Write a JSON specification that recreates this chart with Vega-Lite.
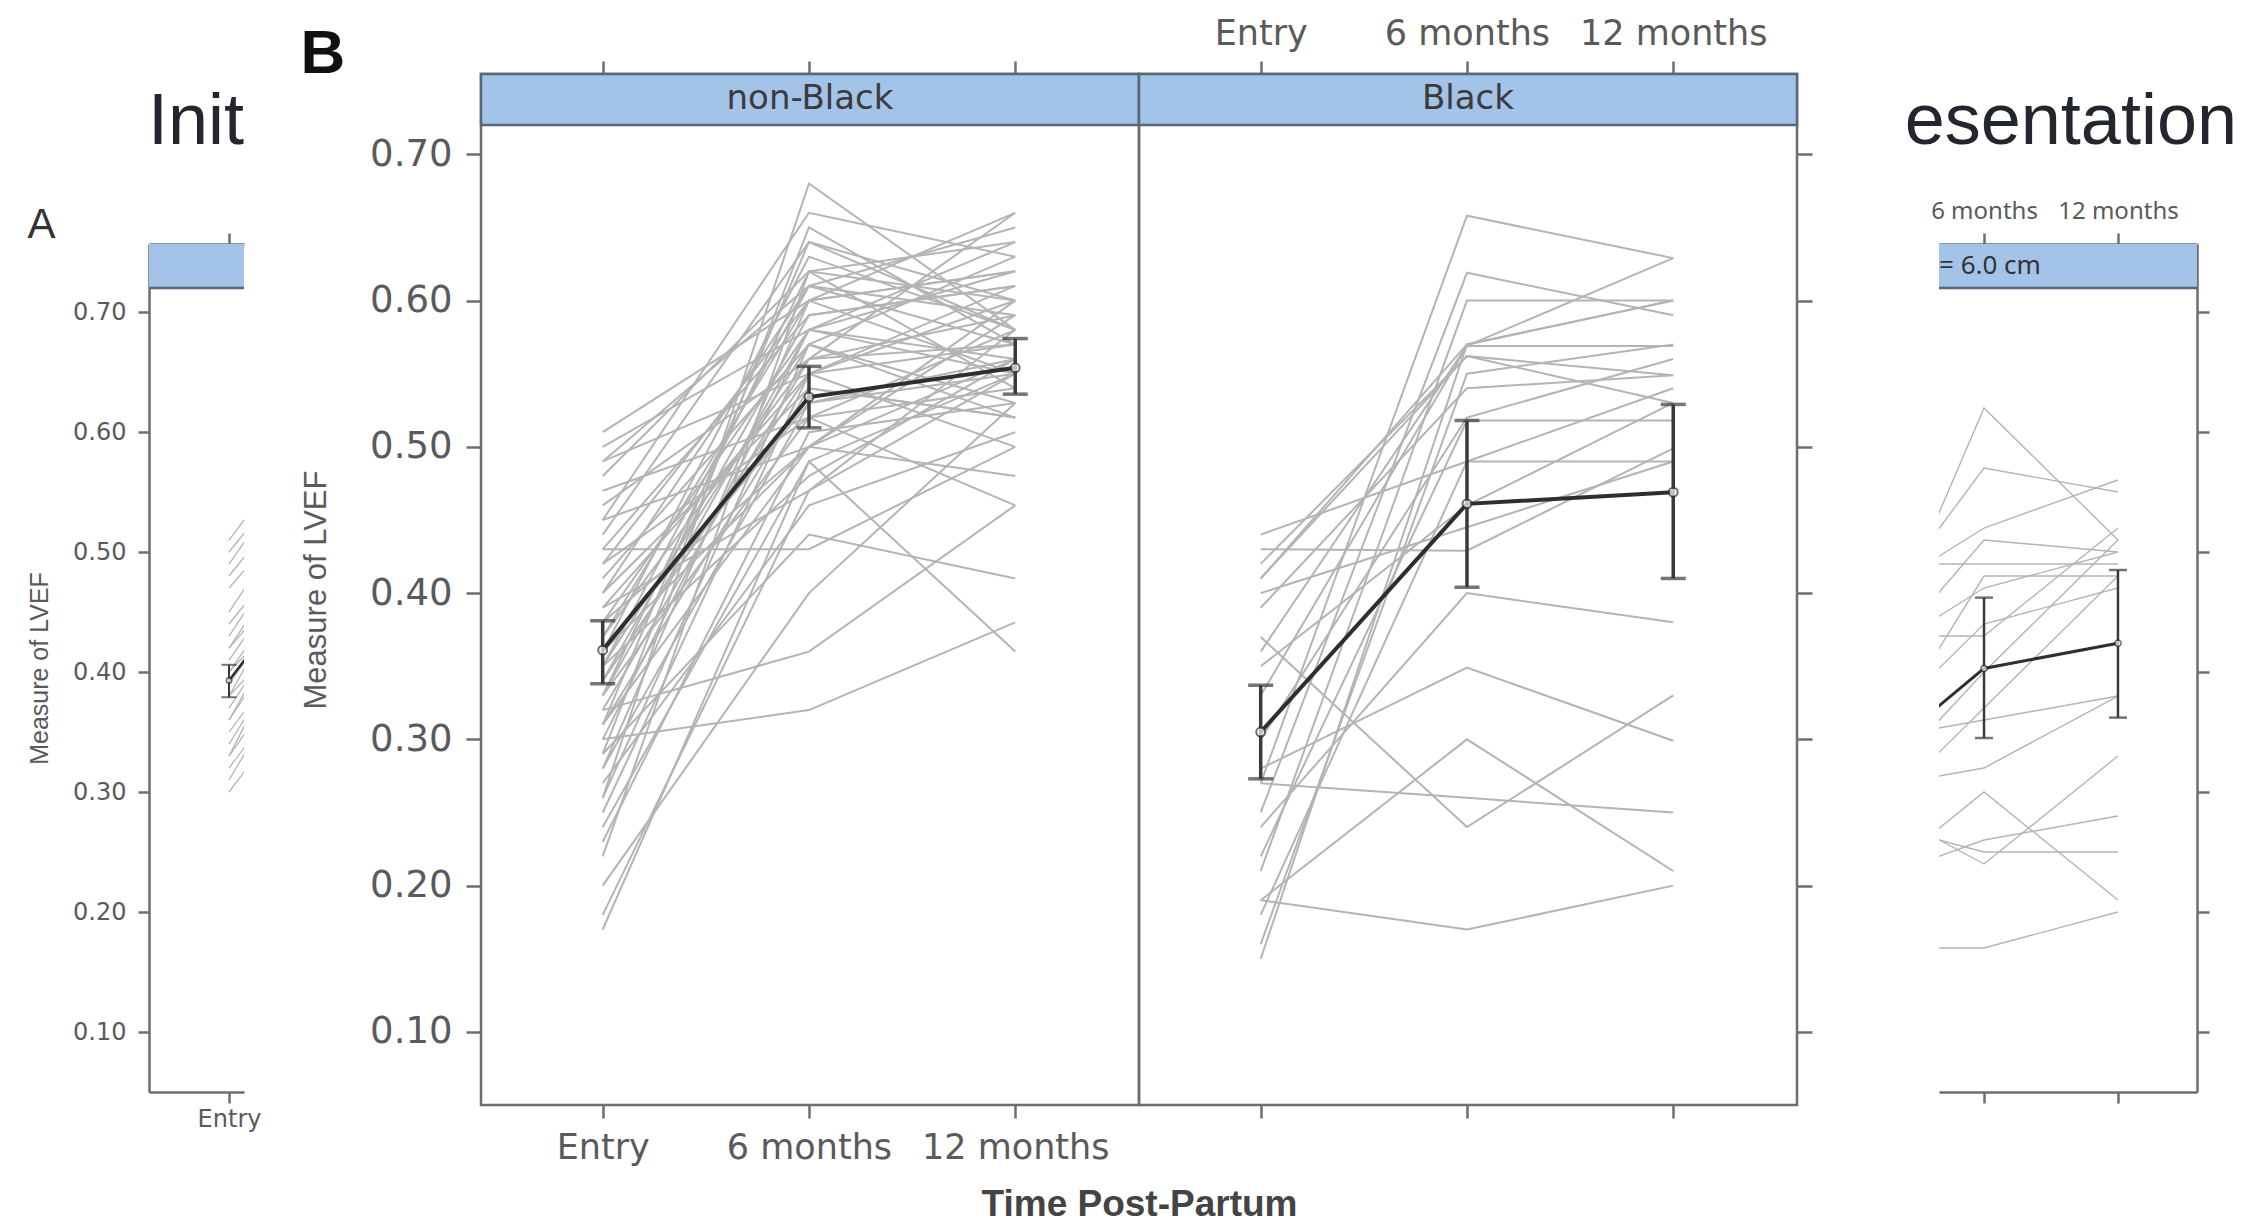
{
"$schema":"https://vega.github.io/schema/vega-lite/v6.json",
"background":"white",
"padding":{"left":27,"top":14,"right":12,"bottom":0},
"config":{
 "view":{"stroke":"#6e6e6e","strokeWidth":2.5},
 "axis":{"domainColor":"#6e6e6e","domainWidth":2.5,"tickColor":"#6e6e6e","tickWidth":2.5,"labelColor":"#5a5a5a","titleColor":"#5a5a5a","grid":false,"labelFont":"DejaVu Sans","titleFont":"Liberation Sans","labelLimit":600}
},
"datasets":{
 "nonBlack":[
{"id":1,"t":0,"v":0.51},{"id":1,"t":1,"v":0.60},{"id":1,"t":2,"v":0.62},
{"id":2,"t":0,"v":0.50},{"id":2,"t":1,"v":0.58},{"id":2,"t":2,"v":0.64},
{"id":3,"t":0,"v":0.49},{"id":3,"t":1,"v":0.55},{"id":3,"t":2,"v":0.57},
{"id":4,"t":0,"v":0.48},{"id":4,"t":1,"v":0.62},{"id":4,"t":2,"v":0.60},
{"id":5,"t":0,"v":0.47},{"id":5,"t":1,"v":0.52},{"id":5,"t":2,"v":0.54},
{"id":6,"t":0,"v":0.46},{"id":6,"t":1,"v":0.56},{"id":6,"t":2,"v":0.66},
{"id":7,"t":0,"v":0.45},{"id":7,"t":1,"v":0.50},{"id":7,"t":2,"v":0.56},
{"id":8,"t":0,"v":0.44},{"id":8,"t":1,"v":0.64},{"id":8,"t":2,"v":0.58},
{"id":9,"t":0,"v":0.43},{"id":9,"t":1,"v":0.43},{"id":9,"t":2,"v":0.50},
{"id":10,"t":0,"v":0.43},{"id":10,"t":1,"v":0.59},{"id":10,"t":2,"v":0.61},
{"id":11,"t":0,"v":0.42},{"id":11,"t":1,"v":0.60},{"id":11,"t":2,"v":0.55},
{"id":12,"t":0,"v":0.41},{"id":12,"t":1,"v":0.57},{"id":12,"t":2,"v":0.63},
{"id":13,"t":0,"v":0.40},{"id":13,"t":1,"v":0.54},{"id":13,"t":2,"v":0.52},
{"id":14,"t":0,"v":0.40},{"id":14,"t":1,"v":0.61},{"id":14,"t":2,"v":0.59},
{"id":15,"t":0,"v":0.39},{"id":15,"t":1,"v":0.55},{"id":15,"t":2,"v":0.60},
{"id":16,"t":0,"v":0.38},{"id":16,"t":1,"v":0.58},{"id":16,"t":2,"v":0.56},
{"id":17,"t":0,"v":0.38},{"id":17,"t":1,"v":0.50},{"id":17,"t":2,"v":0.48},
{"id":18,"t":0,"v":0.37},{"id":18,"t":1,"v":0.56},{"id":18,"t":2,"v":0.57},
{"id":19,"t":0,"v":0.37},{"id":19,"t":1,"v":0.60},{"id":19,"t":2,"v":0.62},
{"id":20,"t":0,"v":0.36},{"id":20,"t":1,"v":0.53},{"id":20,"t":2,"v":0.55},
{"id":21,"t":0,"v":0.36},{"id":21,"t":1,"v":0.63},{"id":21,"t":2,"v":0.58},
{"id":22,"t":0,"v":0.35},{"id":22,"t":1,"v":0.57},{"id":22,"t":2,"v":0.53},
{"id":23,"t":0,"v":0.35},{"id":23,"t":1,"v":0.48},{"id":23,"t":2,"v":0.56},
{"id":24,"t":0,"v":0.34},{"id":24,"t":1,"v":0.59},{"id":24,"t":2,"v":0.61},
{"id":25,"t":0,"v":0.34},{"id":25,"t":1,"v":0.55},{"id":25,"t":2,"v":0.50},
{"id":26,"t":0,"v":0.33},{"id":26,"t":1,"v":0.52},{"id":26,"t":2,"v":0.58},
{"id":27,"t":0,"v":0.33},{"id":27,"t":1,"v":0.62},{"id":27,"t":2,"v":0.54},
{"id":28,"t":0,"v":0.32},{"id":28,"t":1,"v":0.36},{"id":28,"t":2,"v":0.46},
{"id":29,"t":0,"v":0.32},{"id":29,"t":1,"v":0.56},{"id":29,"t":2,"v":0.59},
{"id":30,"t":0,"v":0.31},{"id":30,"t":1,"v":0.54},{"id":30,"t":2,"v":0.52},
{"id":31,"t":0,"v":0.31},{"id":31,"t":1,"v":0.50},{"id":31,"t":2,"v":0.60},
{"id":32,"t":0,"v":0.30},{"id":32,"t":1,"v":0.32},{"id":32,"t":2,"v":0.38},
{"id":33,"t":0,"v":0.30},{"id":33,"t":1,"v":0.58},{"id":33,"t":2,"v":0.55},
{"id":34,"t":0,"v":0.29},{"id":34,"t":1,"v":0.65},{"id":34,"t":2,"v":0.57},
{"id":35,"t":0,"v":0.29},{"id":35,"t":1,"v":0.44},{"id":35,"t":2,"v":0.41},
{"id":36,"t":0,"v":0.28},{"id":36,"t":1,"v":0.53},{"id":36,"t":2,"v":0.56},
{"id":37,"t":0,"v":0.28},{"id":37,"t":1,"v":0.60},{"id":37,"t":2,"v":0.66},
{"id":38,"t":0,"v":0.27},{"id":38,"t":1,"v":0.46},{"id":38,"t":2,"v":0.51},
{"id":39,"t":0,"v":0.26},{"id":39,"t":1,"v":0.57},{"id":39,"t":2,"v":0.52},
{"id":40,"t":0,"v":0.26},{"id":40,"t":1,"v":0.68},{"id":40,"t":2,"v":0.58},
{"id":41,"t":0,"v":0.25},{"id":41,"t":1,"v":0.55},{"id":41,"t":2,"v":0.61},
{"id":42,"t":0,"v":0.24},{"id":42,"t":1,"v":0.49},{"id":42,"t":2,"v":0.36},
{"id":43,"t":0,"v":0.23},{"id":43,"t":1,"v":0.51},{"id":43,"t":2,"v":0.53},
{"id":44,"t":0,"v":0.22},{"id":44,"t":1,"v":0.62},{"id":44,"t":2,"v":0.64},
{"id":45,"t":0,"v":0.20},{"id":45,"t":1,"v":0.40},{"id":45,"t":2,"v":0.53},
{"id":46,"t":0,"v":0.18},{"id":46,"t":1,"v":0.47},{"id":46,"t":2,"v":0.58},
{"id":47,"t":0,"v":0.17},{"id":47,"t":1,"v":0.49},{"id":47,"t":2,"v":0.55},
{"id":48,"t":0,"v":0.45},{"id":48,"t":1,"v":0.66},{"id":48,"t":2,"v":0.63},
{"id":49,"t":0,"v":0.49},{"id":49,"t":1,"v":0.61},{"id":49,"t":2,"v":0.65},
{"id":50,"t":0,"v":0.42},{"id":50,"t":1,"v":0.52},{"id":50,"t":2,"v":0.46},
{"id":51,"t":0,"v":0.39},{"id":51,"t":1,"v":0.47},{"id":51,"t":2,"v":0.55},
{"id":52,"t":0,"v":0.35},{"id":52,"t":1,"v":0.61},{"id":52,"t":2,"v":0.57},
{"id":53,"t":0,"v":0.33},{"id":53,"t":1,"v":0.58},{"id":53,"t":2,"v":0.62},
{"id":54,"t":0,"v":0.31},{"id":54,"t":1,"v":0.64},{"id":54,"t":2,"v":0.60},
{"id":55,"t":0,"v":0.36},{"id":55,"t":1,"v":0.50},{"id":55,"t":2,"v":0.59}
 ],
 "black":[
{"id":1,"t":0,"v":0.27},{"id":1,"t":1,"v":0.658},{"id":1,"t":2,"v":0.629},
{"id":2,"t":0,"v":0.25},{"id":2,"t":1,"v":0.619},{"id":2,"t":2,"v":0.590},
{"id":3,"t":0,"v":0.21},{"id":3,"t":1,"v":0.600},{"id":3,"t":2,"v":0.600},
{"id":4,"t":0,"v":0.36},{"id":4,"t":1,"v":0.569},{"id":4,"t":2,"v":0.629},
{"id":5,"t":0,"v":0.33},{"id":5,"t":1,"v":0.569},{"id":5,"t":2,"v":0.569},
{"id":6,"t":0,"v":0.41},{"id":6,"t":1,"v":0.562},{"id":6,"t":2,"v":0.549},
{"id":7,"t":0,"v":0.42},{"id":7,"t":1,"v":0.562},{"id":7,"t":2,"v":0.530},
{"id":8,"t":0,"v":0.39},{"id":8,"t":1,"v":0.540},{"id":8,"t":2,"v":0.549},
{"id":9,"t":0,"v":0.22},{"id":9,"t":1,"v":0.518},{"id":9,"t":2,"v":0.518},
{"id":10,"t":0,"v":0.18},{"id":10,"t":1,"v":0.490},{"id":10,"t":2,"v":0.490},
{"id":11,"t":0,"v":0.44},{"id":11,"t":1,"v":0.490},{"id":11,"t":2,"v":0.540},
{"id":12,"t":0,"v":0.43},{"id":12,"t":1,"v":0.429},{"id":12,"t":2,"v":0.499},
{"id":13,"t":0,"v":0.40},{"id":13,"t":1,"v":0.445},{"id":13,"t":2,"v":0.490},
{"id":14,"t":0,"v":0.24},{"id":14,"t":1,"v":0.400},{"id":14,"t":2,"v":0.380},
{"id":15,"t":0,"v":0.28},{"id":15,"t":1,"v":0.349},{"id":15,"t":2,"v":0.299},
{"id":16,"t":0,"v":0.19},{"id":16,"t":1,"v":0.300},{"id":16,"t":2,"v":0.210},
{"id":17,"t":0,"v":0.37},{"id":17,"t":1,"v":0.240},{"id":17,"t":2,"v":0.330},
{"id":18,"t":0,"v":0.27},{"id":18,"t":1,"v":0.260},{"id":18,"t":2,"v":0.250},
{"id":19,"t":0,"v":0.19},{"id":19,"t":1,"v":0.170},{"id":19,"t":2,"v":0.200},
{"id":20,"t":0,"v":0.15},{"id":20,"t":1,"v":0.570},{"id":20,"t":2,"v":0.600},
{"id":21,"t":0,"v":0.16},{"id":21,"t":1,"v":0.550},{"id":21,"t":2,"v":0.570},
{"id":22,"t":0,"v":0.35},{"id":22,"t":1,"v":0.460},{"id":22,"t":2,"v":0.530},
{"id":23,"t":0,"v":0.30},{"id":23,"t":1,"v":0.520},{"id":23,"t":2,"v":0.560},
{"id":24,"t":0,"v":0.41},{"id":24,"t":1,"v":0.570},{"id":24,"t":2,"v":0.600}
 ],
 "panelA":[
{"id":1,"t":0,"v":0.51},{"id":1,"t":1,"v":0.66},
{"id":2,"t":0,"v":0.50},{"id":2,"t":1,"v":0.64},
{"id":3,"t":0,"v":0.49},{"id":3,"t":1,"v":0.65},
{"id":4,"t":0,"v":0.48},{"id":4,"t":1,"v":0.62},
{"id":5,"t":0,"v":0.47},{"id":5,"t":1,"v":0.60},
{"id":6,"t":0,"v":0.45},{"id":6,"t":1,"v":0.62},
{"id":7,"t":0,"v":0.44},{"id":7,"t":1,"v":0.58},
{"id":8,"t":0,"v":0.43},{"id":8,"t":1,"v":0.60},
{"id":9,"t":0,"v":0.42},{"id":9,"t":1,"v":0.55},
{"id":10,"t":0,"v":0.42},{"id":10,"t":1,"v":0.59},
{"id":11,"t":0,"v":0.41},{"id":11,"t":1,"v":0.57},
{"id":12,"t":0,"v":0.40},{"id":12,"t":1,"v":0.56},
{"id":13,"t":0,"v":0.40},{"id":13,"t":1,"v":0.52},
{"id":14,"t":0,"v":0.39},{"id":14,"t":1,"v":0.55},
{"id":15,"t":0,"v":0.38},{"id":15,"t":1,"v":0.58},
{"id":16,"t":0,"v":0.38},{"id":16,"t":1,"v":0.50},
{"id":17,"t":0,"v":0.37},{"id":17,"t":1,"v":0.54},
{"id":18,"t":0,"v":0.36},{"id":18,"t":1,"v":0.53},
{"id":19,"t":0,"v":0.36},{"id":19,"t":1,"v":0.56},
{"id":20,"t":0,"v":0.35},{"id":20,"t":1,"v":0.50},
{"id":21,"t":0,"v":0.34},{"id":21,"t":1,"v":0.52},
{"id":22,"t":0,"v":0.33},{"id":22,"t":1,"v":0.49},
{"id":23,"t":0,"v":0.33},{"id":23,"t":1,"v":0.55},
{"id":24,"t":0,"v":0.32},{"id":24,"t":1,"v":0.47},
{"id":25,"t":0,"v":0.31},{"id":25,"t":1,"v":0.50},
{"id":26,"t":0,"v":0.30},{"id":26,"t":1,"v":0.45}
 ],
 "panelR":[
{"id":1,"t":0,"v":0.36},{"id":1,"t":1,"v":0.62},{"id":1,"t":2,"v":0.51},
{"id":2,"t":0,"v":0.42},{"id":2,"t":1,"v":0.57},{"id":2,"t":2,"v":0.55},
{"id":3,"t":0,"v":0.45},{"id":3,"t":1,"v":0.52},{"id":3,"t":2,"v":0.56},
{"id":4,"t":0,"v":0.49},{"id":4,"t":1,"v":0.49},{"id":4,"t":2,"v":0.49},
{"id":5,"t":0,"v":0.38},{"id":5,"t":1,"v":0.51},{"id":5,"t":2,"v":0.50},
{"id":6,"t":0,"v":0.30},{"id":6,"t":1,"v":0.48},{"id":6,"t":2,"v":0.48},
{"id":7,"t":0,"v":0.40},{"id":7,"t":1,"v":0.47},{"id":7,"t":2,"v":0.50},
{"id":8,"t":0,"v":0.43},{"id":8,"t":1,"v":0.43},{"id":8,"t":2,"v":0.52},
{"id":9,"t":0,"v":0.33},{"id":9,"t":1,"v":0.44},{"id":9,"t":2,"v":0.47},
{"id":10,"t":0,"v":0.34},{"id":10,"t":1,"v":0.36},{"id":10,"t":2,"v":0.38},
{"id":11,"t":0,"v":0.30},{"id":11,"t":1,"v":0.32},{"id":11,"t":2,"v":0.38},
{"id":12,"t":0,"v":0.21},{"id":12,"t":1,"v":0.30},{"id":12,"t":2,"v":0.21},
{"id":13,"t":0,"v":0.30},{"id":13,"t":1,"v":0.24},{"id":13,"t":2,"v":0.33},
{"id":14,"t":0,"v":0.22},{"id":14,"t":1,"v":0.26},{"id":14,"t":2,"v":0.28},
{"id":15,"t":0,"v":0.28},{"id":15,"t":1,"v":0.25},{"id":15,"t":2,"v":0.25},
{"id":16,"t":0,"v":0.17},{"id":16,"t":1,"v":0.17},{"id":16,"t":2,"v":0.20},
{"id":17,"t":0,"v":0.28},{"id":17,"t":1,"v":0.40},{"id":17,"t":2,"v":0.51},
{"id":18,"t":0,"v":0.26},{"id":18,"t":1,"v":0.37},{"id":18,"t":2,"v":0.48}
 ],
 "means":[
{"panel":"A","t":0,"mean":0.393,"lo":0.379,"hi":0.406},
{"panel":"A","t":1,"mean":0.54,"lo":0.52,"hi":0.56},
{"panel":"A","t":2,"mean":0.55,"lo":0.53,"hi":0.57},
{"panel":"nonBlack","t":0,"mean":0.361,"lo":0.338,"hi":0.381},
{"panel":"nonBlack","t":1,"mean":0.534,"lo":0.513,"hi":0.555},
{"panel":"nonBlack","t":2,"mean":0.554,"lo":0.536,"hi":0.574},
{"panel":"Black","t":0,"mean":0.305,"lo":0.273,"hi":0.337},
{"panel":"Black","t":1,"mean":0.461,"lo":0.404,"hi":0.518},
{"panel":"Black","t":2,"mean":0.469,"lo":0.410,"hi":0.529},
{"panel":"R","t":0,"mean":0.31,"lo":0.27,"hi":0.35},
{"panel":"R","t":1,"mean":0.403,"lo":0.345,"hi":0.462},
{"panel":"R","t":2,"mean":0.424,"lo":0.362,"hi":0.485}
 ]
},
"spacing":89,
"hconcat":[
 {"spacing":38,"hconcat":[
  {"bounds":"flush","spacing":100,"vconcat":[
   {"width":95,"height":70,"view":{"stroke":null},
    "data":{"values":[{"txt":"Init"}]},
    "mark":{"type":"text","align":"right","baseline":"alphabetic","font":"Liberation Sans","fontSize":72,"color":"#24262e"},
    "encoding":{"text":{"field":"txt"},"x":{"value":"width"},"y":{"value":"height"}}},
   {"width":95,"height":848,"view":{"stroke":null},
    "title":{"text":"A","anchor":"start","frame":"bounds","font":"Liberation Sans","fontSize":42,"fontWeight":"normal","color":"#333333","offset":-15},
    "resolve":{"axis":{"x":"independent","y":"independent"}},
    "layer":[
     {"data":{"values":[{"s":"A"}]},"mark":{"type":"rect","fill":"#a3c3e8"},
      "encoding":{"x":{"datum":-0.593,"type":"quantitative","scale":{"domain":[-0.593,0.111],"nice":false,"zero":false},"axis":null},"x2":{"datum":0.111},
       "y":{"datum":0.72,"type":"quantitative","scale":{"domain":[0.05,0.7567],"nice":false,"zero":false},"axis":null},"y2":{"datum":0.7567}}},
     {"data":{"values":[{"s":"A"}]},"mark":{"type":"rule","color":"#56687a","strokeWidth":2.5},
      "encoding":{"x":{"datum":-0.593,"type":"quantitative","scale":{"domain":[-0.593,0.111],"nice":false,"zero":false},"axis":null},"x2":{"datum":0.111},
       "y":{"datum":0.72,"type":"quantitative","scale":{"domain":[0.05,0.7567],"nice":false,"zero":false},"axis":null}}},
     {"data":{"name":"panelA"},"mark":{"type":"line","color":"#b4b4b4","strokeWidth":1.3,"clip":true},
      "encoding":{"x":{"field":"t","type":"quantitative","scale":{"domain":[-0.593,0.111],"nice":false,"zero":false},
        "axis":{"orient":"bottom","values":[0],"labelExpr":"['Entry','6 months','12 months'][datum.value]","labelFontSize":24,"tickSize":11,"labelPadding":4,"title":null,"domain":true}},
       "y":{"field":"v","type":"quantitative","scale":{"domain":[0.05,0.7567],"nice":false,"zero":false},
        "axis":{"orient":"left","values":[0.1,0.2,0.3,0.4,0.5,0.6,0.7],"format":".2f","labelFontSize":24,"tickSize":11,"labelPadding":12,"title":"Measure of LVEF","titleFontSize":25,"titleFontWeight":"normal","titlePadding":20,"domain":true}},
       "detail":{"field":"id"}}},
     {"data":{"name":"means"},"transform":[{"filter":"datum.panel==='A'"}],"mark":{"type":"rule","color":"#3a3a3a","strokeWidth":2,"clip":true},
      "encoding":{"x":{"field":"t","type":"quantitative","scale":{"domain":[-0.593,0.111],"nice":false,"zero":false},"axis":null},
       "y":{"field":"lo","type":"quantitative","scale":{"domain":[0.05,0.7567],"nice":false,"zero":false},"axis":null},"y2":{"field":"hi"}}},
     {"data":{"name":"means"},"transform":[{"filter":"datum.panel==='A'"}],"mark":{"type":"tick","orient":"horizontal","size":15,"thickness":2,"color":"#3a3a3a","clip":true},
      "encoding":{"x":{"field":"t","type":"quantitative","scale":{"domain":[-0.593,0.111],"nice":false,"zero":false},"axis":null},
       "y":{"field":"lo","type":"quantitative","scale":{"domain":[0.05,0.7567],"nice":false,"zero":false},"axis":null}}},
     {"data":{"name":"means"},"transform":[{"filter":"datum.panel==='A'"}],"mark":{"type":"tick","orient":"horizontal","size":15,"thickness":2,"color":"#3a3a3a","clip":true},
      "encoding":{"x":{"field":"t","type":"quantitative","scale":{"domain":[-0.593,0.111],"nice":false,"zero":false},"axis":null},
       "y":{"field":"hi","type":"quantitative","scale":{"domain":[0.05,0.7567],"nice":false,"zero":false},"axis":null}}},
     {"data":{"name":"means"},"transform":[{"filter":"datum.panel==='A'"}],"mark":{"type":"line","color":"#2e2e2e","strokeWidth":2.5,"clip":true},
      "encoding":{"x":{"field":"t","type":"quantitative","scale":{"domain":[-0.593,0.111],"nice":false,"zero":false},
        "axis":{"orient":"top","values":[0],"labels":false,"tickSize":11,"title":null,"domain":true}},
       "y":{"field":"mean","type":"quantitative","scale":{"domain":[0.05,0.7567],"nice":false,"zero":false},"axis":null}}},
     {"data":{"name":"means"},"transform":[{"filter":"datum.panel==='A'"}],"mark":{"type":"point","shape":"circle","filled":true,"fill":"#ffffff","stroke":"#333333","strokeWidth":1.5,"size":30,"clip":true},
      "encoding":{"x":{"field":"t","type":"quantitative","scale":{"domain":[-0.593,0.111],"nice":false,"zero":false},"axis":null},
       "y":{"field":"mean","type":"quantitative","scale":{"domain":[0.05,0.7567],"nice":false,"zero":false},"axis":null}}}
    ]}
  ]},
  {"bounds":"flush","spacing":0,
   "hconcat":[
   {"width":658,"height":1031,
    "title":{"text":"B","anchor":"start","frame":"bounds","font":"Liberation Sans","fontSize":62,"fontWeight":"bold","color":"#111111","offset":-26},
    "resolve":{"axis":{"x":"independent","y":"independent"}},
    "layer":[
     {"data":{"values":[{"label":"non-Black"}]},"mark":{"type":"rect","fill":"#a3c3e8","stroke":"#56687a","strokeWidth":2.5},
      "encoding":{"x":{"datum":-0.59,"type":"quantitative","scale":{"domain":[-0.59,2.6],"nice":false,"zero":false},"axis":null},"x2":{"datum":2.6},
       "y":{"datum":0.72,"type":"quantitative","scale":{"domain":[0.05,0.7549],"nice":false,"zero":false},"axis":null},"y2":{"datum":0.7549}}},
     {"data":{"values":[{"label":"non-Black"}]},"mark":{"type":"text","font":"DejaVu Sans","fontSize":34,"color":"#3b3b3b","baseline":"middle","align":"center"},
      "encoding":{"x":{"datum":1.005,"type":"quantitative","scale":{"domain":[-0.59,2.6],"nice":false,"zero":false},"axis":null},
       "y":{"datum":0.7375,"type":"quantitative","scale":{"domain":[0.05,0.7549],"nice":false,"zero":false},"axis":null},"text":{"field":"label"}}},
     {"data":{"name":"nonBlack"},"mark":{"type":"line","color":"#b4b4b4","strokeWidth":2},
      "encoding":{"x":{"field":"t","type":"quantitative","scale":{"domain":[-0.59,2.6],"nice":false,"zero":false},
        "axis":{"orient":"bottom","values":[0,1,2],"labelExpr":"['Entry','6 months','12 months'][datum.value]","labelFontSize":35,"tickSize":13,"labelPadding":12,"title":"Time Post-Partum","titleAnchor":"end","titleAlign":"center","titleFont":"Liberation Sans","titleFontSize":37,"titleFontWeight":"bold","titleColor":"#444444","titlePadding":21,"domain":false}},
       "y":{"field":"v","type":"quantitative","scale":{"domain":[0.05,0.7549],"nice":false,"zero":false},
        "axis":{"orient":"left","values":[0.1,0.2,0.3,0.4,0.5,0.6,0.7],"format":".2f","labelFontSize":37,"tickSize":15,"labelPadding":14,"title":"Measure of LVEF","titleFontSize":31,"titleFontWeight":"normal","titlePadding":37,"domain":false}},
       "detail":{"field":"id"}}},
     {"data":{"name":"means"},"transform":[{"filter":"datum.panel==='nonBlack'"}],"mark":{"type":"rule","color":"#3a3a3a","strokeWidth":3.5},
      "encoding":{"x":{"field":"t","type":"quantitative","scale":{"domain":[-0.59,2.6],"nice":false,"zero":false},"axis":null},
       "y":{"field":"lo","type":"quantitative","scale":{"domain":[0.05,0.7549],"nice":false,"zero":false},"axis":null},"y2":{"field":"hi"}}},
     {"data":{"name":"means"},"transform":[{"filter":"datum.panel==='nonBlack'"}],"mark":{"type":"tick","orient":"horizontal","size":25,"thickness":3.5,"color":"#3a3a3a"},
      "encoding":{"x":{"field":"t","type":"quantitative","scale":{"domain":[-0.59,2.6],"nice":false,"zero":false},"axis":null},
       "y":{"field":"lo","type":"quantitative","scale":{"domain":[0.05,0.7549],"nice":false,"zero":false},"axis":null}}},
     {"data":{"name":"means"},"transform":[{"filter":"datum.panel==='nonBlack'"}],"mark":{"type":"tick","orient":"horizontal","size":25,"thickness":3.5,"color":"#3a3a3a"},
      "encoding":{"x":{"field":"t","type":"quantitative","scale":{"domain":[-0.59,2.6],"nice":false,"zero":false},"axis":null},
       "y":{"field":"hi","type":"quantitative","scale":{"domain":[0.05,0.7549],"nice":false,"zero":false},"axis":null}}},
     {"data":{"name":"means"},"transform":[{"filter":"datum.panel==='nonBlack'"}],"mark":{"type":"line","color":"#2e2e2e","strokeWidth":4},
      "encoding":{"x":{"field":"t","type":"quantitative","scale":{"domain":[-0.59,2.6],"nice":false,"zero":false},
        "axis":{"orient":"top","values":[0,1,2],"labels":false,"tickSize":13,"title":null,"domain":false}},
       "y":{"field":"mean","type":"quantitative","scale":{"domain":[0.05,0.7549],"nice":false,"zero":false},"axis":null}}},
     {"data":{"name":"means"},"transform":[{"filter":"datum.panel==='nonBlack'"}],"mark":{"type":"point","shape":"circle","filled":true,"fill":"#ffffff","stroke":"#333333","strokeWidth":2,"size":80},
      "encoding":{"x":{"field":"t","type":"quantitative","scale":{"domain":[-0.59,2.6],"nice":false,"zero":false},"axis":null},
       "y":{"field":"mean","type":"quantitative","scale":{"domain":[0.05,0.7549],"nice":false,"zero":false},"axis":null}}}
    ]},
   {"width":658,"height":1031,
    "resolve":{"axis":{"x":"independent","y":"independent"}},
    "layer":[
     {"data":{"values":[{"label":"Black"}]},"mark":{"type":"rect","fill":"#a3c3e8","stroke":"#56687a","strokeWidth":2.5},
      "encoding":{"x":{"datum":-0.59,"type":"quantitative","scale":{"domain":[-0.59,2.6],"nice":false,"zero":false},"axis":null},"x2":{"datum":2.6},
       "y":{"datum":0.72,"type":"quantitative","scale":{"domain":[0.05,0.7549],"nice":false,"zero":false},"axis":null},"y2":{"datum":0.7549}}},
     {"data":{"values":[{"label":"Black"}]},"mark":{"type":"text","font":"DejaVu Sans","fontSize":34,"color":"#3b3b3b","baseline":"middle","align":"center"},
      "encoding":{"x":{"datum":1.005,"type":"quantitative","scale":{"domain":[-0.59,2.6],"nice":false,"zero":false},"axis":null},
       "y":{"datum":0.7375,"type":"quantitative","scale":{"domain":[0.05,0.7549],"nice":false,"zero":false},"axis":null},"text":{"field":"label"}}},
     {"data":{"name":"black"},"mark":{"type":"line","color":"#b4b4b4","strokeWidth":2},
      "encoding":{"x":{"field":"t","type":"quantitative","scale":{"domain":[-0.59,2.6],"nice":false,"zero":false},
        "axis":{"orient":"bottom","values":[0,1,2],"labels":false,"tickSize":13,"title":null,"domain":false}},
       "y":{"field":"v","type":"quantitative","scale":{"domain":[0.05,0.7549],"nice":false,"zero":false},
        "axis":{"orient":"right","values":[0.1,0.2,0.3,0.4,0.5,0.6,0.7],"labels":false,"tickSize":15,"title":null,"domain":false}},
       "detail":{"field":"id"}}},
     {"data":{"name":"means"},"transform":[{"filter":"datum.panel==='Black'"}],"mark":{"type":"rule","color":"#3a3a3a","strokeWidth":3.5},
      "encoding":{"x":{"field":"t","type":"quantitative","scale":{"domain":[-0.59,2.6],"nice":false,"zero":false},"axis":null},
       "y":{"field":"lo","type":"quantitative","scale":{"domain":[0.05,0.7549],"nice":false,"zero":false},"axis":null},"y2":{"field":"hi"}}},
     {"data":{"name":"means"},"transform":[{"filter":"datum.panel==='Black'"}],"mark":{"type":"tick","orient":"horizontal","size":25,"thickness":3.5,"color":"#3a3a3a"},
      "encoding":{"x":{"field":"t","type":"quantitative","scale":{"domain":[-0.59,2.6],"nice":false,"zero":false},"axis":null},
       "y":{"field":"lo","type":"quantitative","scale":{"domain":[0.05,0.7549],"nice":false,"zero":false},"axis":null}}},
     {"data":{"name":"means"},"transform":[{"filter":"datum.panel==='Black'"}],"mark":{"type":"tick","orient":"horizontal","size":25,"thickness":3.5,"color":"#3a3a3a"},
      "encoding":{"x":{"field":"t","type":"quantitative","scale":{"domain":[-0.59,2.6],"nice":false,"zero":false},"axis":null},
       "y":{"field":"hi","type":"quantitative","scale":{"domain":[0.05,0.7549],"nice":false,"zero":false},"axis":null}}},
     {"data":{"name":"means"},"transform":[{"filter":"datum.panel==='Black'"}],"mark":{"type":"line","color":"#2e2e2e","strokeWidth":4},
      "encoding":{"x":{"field":"t","type":"quantitative","scale":{"domain":[-0.59,2.6],"nice":false,"zero":false},
        "axis":{"orient":"top","values":[0,1,2],"labelExpr":"['Entry','6 months','12 months'][datum.value]","labelFontSize":35,"tickSize":13,"labelPadding":10,"title":null,"domain":false}},
       "y":{"field":"mean","type":"quantitative","scale":{"domain":[0.05,0.7549],"nice":false,"zero":false},"axis":null}}},
     {"data":{"name":"means"},"transform":[{"filter":"datum.panel==='Black'"}],"mark":{"type":"point","shape":"circle","filled":true,"fill":"#ffffff","stroke":"#333333","strokeWidth":2,"size":80},
      "encoding":{"x":{"field":"t","type":"quantitative","scale":{"domain":[-0.59,2.6],"nice":false,"zero":false},"axis":null},
       "y":{"field":"mean","type":"quantitative","scale":{"domain":[0.05,0.7549],"nice":false,"zero":false},"axis":null}}}
    ]}
  ]}
 ]},
 {"bounds":"flush","spacing":100,"vconcat":[
   {"width":298,"height":70,"view":{"stroke":null},
    "data":{"values":[{"txt":"esentation"}]},
    "mark":{"type":"text","align":"right","baseline":"alphabetic","font":"Liberation Sans","fontSize":72,"color":"#24262e"},
    "encoding":{"text":{"field":"txt"},"x":{"value":"width"},"y":{"value":"height"}}},
   {"width":258,"height":848,"view":{"stroke":null},
    "resolve":{"axis":{"x":"independent","y":"independent"}},
    "layer":[
     {"data":{"values":[{"s":"R"}]},"mark":{"type":"rect","fill":"#a3c3e8"},
      "encoding":{"x":{"datum":0.664,"type":"quantitative","scale":{"domain":[0.664,2.59],"nice":false,"zero":false},"axis":null},"x2":{"datum":2.59},
       "y":{"datum":0.72,"type":"quantitative","scale":{"domain":[0.05,0.7567],"nice":false,"zero":false},"axis":null},"y2":{"datum":0.7567}}},
     {"data":{"values":[{"s":"R"}]},"mark":{"type":"rule","color":"#56687a","strokeWidth":2.5},
      "encoding":{"x":{"datum":0.664,"type":"quantitative","scale":{"domain":[0.664,2.59],"nice":false,"zero":false},"axis":null},"x2":{"datum":2.59},
       "y":{"datum":0.72,"type":"quantitative","scale":{"domain":[0.05,0.7567],"nice":false,"zero":false},"axis":null}}},
     {"data":{"values":[{"label":"= 6.0 cm"}]},"mark":{"type":"text","font":"Noto Sans","fontSize":26,"color":"#333333","baseline":"middle","align":"left"},
      "encoding":{"x":{"datum":0.664,"type":"quantitative","scale":{"domain":[0.664,2.59],"nice":false,"zero":false},"axis":null},
       "y":{"datum":0.738,"type":"quantitative","scale":{"domain":[0.05,0.7567],"nice":false,"zero":false},"axis":null},"text":{"field":"label"}}},
     {"data":{"name":"panelR"},"mark":{"type":"line","color":"#b4b4b4","strokeWidth":1.4,"clip":true},
      "encoding":{"x":{"field":"t","type":"quantitative","scale":{"domain":[0.664,2.59],"nice":false,"zero":false},
        "axis":{"orient":"bottom","values":[1,2],"labels":false,"tickSize":11,"title":null,"domain":true}},
       "y":{"field":"v","type":"quantitative","scale":{"domain":[0.05,0.7567],"nice":false,"zero":false},
        "axis":{"orient":"right","values":[0.1,0.2,0.3,0.4,0.5,0.6,0.7],"labels":false,"tickSize":12,"title":null,"domain":true}},
       "detail":{"field":"id"}}},
     {"data":{"name":"means"},"transform":[{"filter":"datum.panel==='R'"}],"mark":{"type":"rule","color":"#3a3a3a","strokeWidth":2.5,"clip":true},
      "encoding":{"x":{"field":"t","type":"quantitative","scale":{"domain":[0.664,2.59],"nice":false,"zero":false},"axis":null},
       "y":{"field":"lo","type":"quantitative","scale":{"domain":[0.05,0.7567],"nice":false,"zero":false},"axis":null},"y2":{"field":"hi"}}},
     {"data":{"name":"means"},"transform":[{"filter":"datum.panel==='R'"}],"mark":{"type":"tick","orient":"horizontal","size":18,"thickness":2.5,"color":"#3a3a3a","clip":true},
      "encoding":{"x":{"field":"t","type":"quantitative","scale":{"domain":[0.664,2.59],"nice":false,"zero":false},"axis":null},
       "y":{"field":"lo","type":"quantitative","scale":{"domain":[0.05,0.7567],"nice":false,"zero":false},"axis":null}}},
     {"data":{"name":"means"},"transform":[{"filter":"datum.panel==='R'"}],"mark":{"type":"tick","orient":"horizontal","size":18,"thickness":2.5,"color":"#3a3a3a","clip":true},
      "encoding":{"x":{"field":"t","type":"quantitative","scale":{"domain":[0.664,2.59],"nice":false,"zero":false},"axis":null},
       "y":{"field":"hi","type":"quantitative","scale":{"domain":[0.05,0.7567],"nice":false,"zero":false},"axis":null}}},
     {"data":{"name":"means"},"transform":[{"filter":"datum.panel==='R'"}],"mark":{"type":"line","color":"#2e2e2e","strokeWidth":3,"clip":true},
      "encoding":{"x":{"field":"t","type":"quantitative","scale":{"domain":[0.664,2.59],"nice":false,"zero":false},
        "axis":{"orient":"top","values":[1,2],"labelExpr":"['Entry','6 months','12 months'][datum.value]","labelFontSize":24,"tickSize":11,"labelPadding":10,"title":null,"domain":true,"labelFont":"Noto Sans"}},
       "y":{"field":"mean","type":"quantitative","scale":{"domain":[0.05,0.7567],"nice":false,"zero":false},"axis":null}}},
     {"data":{"name":"means"},"transform":[{"filter":"datum.panel==='R'"}],"mark":{"type":"point","shape":"circle","filled":true,"fill":"#ffffff","stroke":"#333333","strokeWidth":1.5,"size":40,"clip":true},
      "encoding":{"x":{"field":"t","type":"quantitative","scale":{"domain":[0.664,2.59],"nice":false,"zero":false},"axis":null},
       "y":{"field":"mean","type":"quantitative","scale":{"domain":[0.05,0.7567],"nice":false,"zero":false},"axis":null}}}
    ]}
 ]}
]
}
